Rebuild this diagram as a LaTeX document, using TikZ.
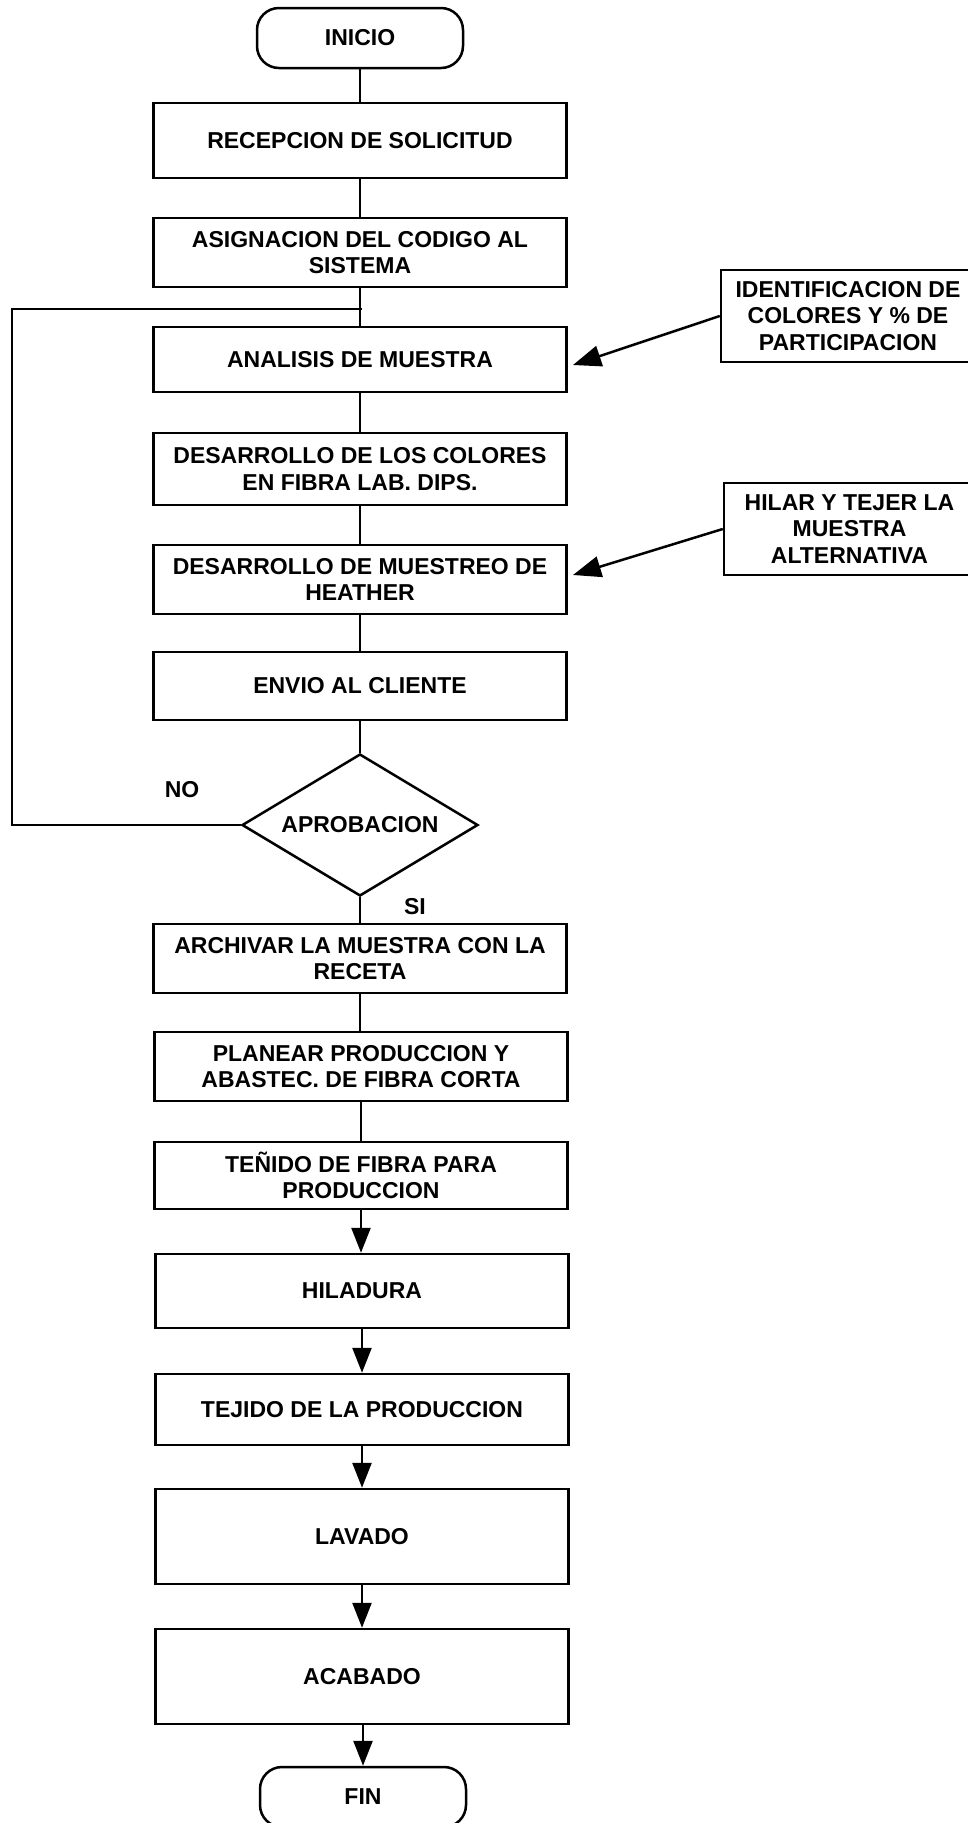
\documentclass[tikz,border=0pt]{standalone}
\usepackage{fontspec}
\setmainfont{Liberation Sans}
\usetikzlibrary{shapes.geometric,arrows.meta}
\begin{document}
\begin{tikzpicture}[x=1pt,y=-1pt,
  line width=2.5pt,
  every node/.style={font=\bfseries\fontsize{23}{26.7}\selectfont, align=center, inner sep=0pt},
  procbox/.style={draw, rectangle, minimum width=413pt},
  termbox/.style={draw, rectangle, rounded corners=22pt, minimum width=206pt, minimum height=60pt},
  notebox/.style={draw, rectangle, minimum height=92pt},
  decision/.style={draw, diamond, aspect=1.66, minimum width=236pt, minimum height=142pt},
  flow/.style={-{Triangle[length=25pt,width=19pt]}},
  feed/.style={-{Triangle[length=28pt,width=21pt]}}
]
\useasboundingbox (0,0) rectangle (968,1823);
\clip (0,0) rectangle (968,1823);
\fill[white] (0,0) rectangle (968,1823);

% main column
\node[termbox] (ini) at (360,38) {INICIO};
\node[procbox, minimum height=75pt] (rec) at (360,140.5) {RECEPCION DE SOLICITUD};
\node[procbox, minimum height=69pt] (asig) at (360,252.5) {ASIGNACION DEL CODIGO AL\\SISTEMA};
\node[procbox, minimum height=65pt] (anal) at (360,359.5) {ANALISIS DE MUESTRA};
\node[procbox, minimum height=72pt] (dcol) at (360,469) {DESARROLLO DE LOS COLORES\\EN FIBRA LAB. DIPS.};
\node[procbox, minimum height=69pt] (dmue) at (360,579.5) {DESARROLLO DE MUESTREO DE\\HEATHER};
\node[procbox, minimum height=68pt] (env) at (360,686) {ENVIO AL CLIENTE};
\node[decision] (dia) at (360,825) {APROBACION};
\node[procbox, minimum height=69pt] (arch) at (360,958.5) {ARCHIVAR LA MUESTRA CON LA\\RECETA};
\node[procbox, minimum height=69pt] (plan) at (361,1066.5) {PLANEAR PRODUCCION Y\\ABASTEC. DE FIBRA CORTA};
\node[procbox, minimum height=67pt] (ten) at (361,1175.5) {TEÑIDO DE FIBRA PARA\\PRODUCCION};
\node[procbox, minimum height=74pt] (hil) at (362,1291) {HILADURA};
\node[procbox, minimum height=71pt] (tej) at (362,1409.5) {TEJIDO DE LA PRODUCCION};
\node[procbox, minimum height=95pt] (lav) at (362,1536.5) {LAVADO};
\node[procbox, minimum height=95pt] (aca) at (362,1676.5) {ACABADO};
\node[termbox] (fin) at (363,1797) {FIN};

% side notes, running past the right edge
\node[notebox, minimum width=270pt] (ident) at (856,316) {\hspace*{-16pt}IDENTIFICACION DE\\\hspace*{-16pt}COLORES Y \% DE\\\hspace*{-16pt}PARTICIPACION};
\node[notebox, minimum width=267pt] (hilar) at (857.5,529) {\hspace*{-16pt}HILAR Y TEJER LA\\\hspace*{-16pt}MUESTRA\\\hspace*{-16pt}ALTERNATIVA};

% branch labels
\node (no) at (182,790) {NO};
\node (si) at (415,907) {SI};

% plain connectors
\draw (ini.south) -- (rec.north);
\draw (rec.south) -- (asig.north);
\draw (asig.south) -- (anal.north);
\draw (anal.south) -- (dcol.north);
\draw (dcol.south) -- (dmue.north);
\draw (dmue.south) -- (env.north);
\draw (env.south) -- (dia.north);
\draw (dia.south) -- (dia.south |- arch.north);
\draw (arch.south) -- (arch.south |- plan.north);
\draw (plan.south) -- (ten.north);

% arrowed connectors
\draw[flow] (ten.south) -- (ten.south |- hil.north);
\draw[flow] (hil.south) -- (tej.north);
\draw[flow] (tej.south) -- (lav.north);
\draw[flow] (lav.south) -- (aca.north);
\draw[flow] (aca.south -| fin.north) -- (fin.north);

% rejection loop back to the analysis step
\coordinate (lb) at (12,825);
\coordinate (lt) at (12,309);
\coordinate (lj) at (362,309);
\draw (dia.west) -- (lb) -- (lt) -- (lj);

% inputs from the side notes
\coordinate (t1) at (573,365);
\coordinate (t2) at (573,575);
\draw[feed] (ident.west) -- (t1);
\draw[feed] (hilar.west) -- (t2);
\end{tikzpicture}
\end{document}
